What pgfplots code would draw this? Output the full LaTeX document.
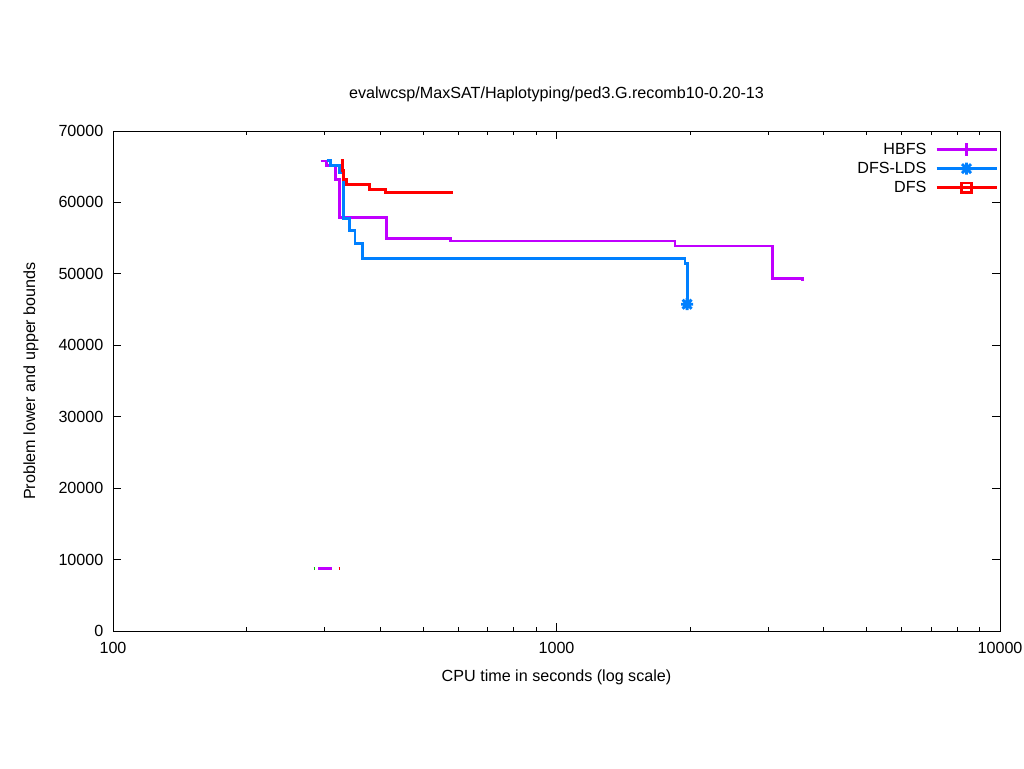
\documentclass[border=0pt]{standalone}
\usepackage{pgfplots}
\pgfplotsset{compat=1.18}
\usepackage{fontspec}
\setmainfont{Liberation Sans}
\usetikzlibrary{plotmarks}
\definecolor{cpur}{RGB}{192,0,255}
\definecolor{cblu}{RGB}{0,128,255}
\definecolor{cred}{RGB}{255,0,0}
\definecolor{cgrn}{RGB}{0,192,0}
\pgfdeclareplotmark{gpstar}{%
  \pgfpathmoveto{\pgfqpoint{-\pgfplotmarksize}{0pt}}\pgfpathlineto{\pgfqpoint{\pgfplotmarksize}{0pt}}%
  \pgfpathmoveto{\pgfqpoint{0pt}{-\pgfplotmarksize}}\pgfpathlineto{\pgfqpoint{0pt}{\pgfplotmarksize}}%
  \pgfpathmoveto{\pgfqpoint{-0.75\pgfplotmarksize}{-0.75\pgfplotmarksize}}\pgfpathlineto{\pgfqpoint{0.75\pgfplotmarksize}{0.75\pgfplotmarksize}}%
  \pgfpathmoveto{\pgfqpoint{-0.75\pgfplotmarksize}{0.75\pgfplotmarksize}}\pgfpathlineto{\pgfqpoint{0.75\pgfplotmarksize}{-0.75\pgfplotmarksize}}%
  \pgfusepathqstroke}
\newcommand{\fs}{\fontsize{12.1}{14}\selectfont}
\begin{document}
\fs
\begin{tikzpicture}
\path[use as bounding box] (0,0) rectangle (768pt,576pt);
\begin{axis}[
  at={(84.75pt,102.75pt)}, anchor=south west,
  scale only axis, width=665.25pt, height=375pt,
  xmode=log, xmin=100, xmax=10000, ymin=0, ymax=70000,
  xtick={100,1000,10000}, xticklabels={100,1000,10000},
  minor xtick={200,300,400,500,600,700,800,900,2000,3000,4000,5000,6000,7000,8000,9000},
  ytick={0,10000,...,70000},
  yticklabel style={/pgf/number format/1000 sep={}, /pgf/number format/fixed},
  scaled y ticks=false,
  /pgf/number format/assume math mode=true,
  tick align=inside, major tick length=6pt, minor tick length=3pt,
  tick style={black, line width=0.75pt},
  axis line style={line width=0.75pt},
  every tick label/.append style={font=\fs},
  xticklabel style={yshift=-4.5pt},
  yticklabel style={xshift=-3pt},
  title={evalwcsp/MaxSAT/Haplotyping/ped3.G.recomb10-0.20-13},
  title style={at={(axis description cs:0.5,1.058)}, anchor=center, font=\fs},
  xlabel={CPU time in seconds (log scale)},
  xlabel style={at={(axis description cs:0.5,-0.092)}, anchor=center, font=\fs},
  ylabel={Problem lower and upper bounds},
  ylabel style={at={(axis description cs:-0.0924,0.5)}, anchor=center, font=\fs},
  legend style={at={(rel axis cs:0.9995,0.985)}, anchor=north east, draw=none, fill=none,
    font=\fs, row sep=0pt, column sep=4.5pt, inner sep=1pt,
    legend cell align=right},
  legend plot pos=right,
  legend image code/.code={
    \draw[#1, mark indices={2}] plot coordinates {(0pt,0pt) (22.5pt,0pt) (45pt,0pt)};},
]
\addplot[cpur, line width=2.2pt, const plot, mark=+, mark size=4.9pt, mark options={line width=2.2pt}, mark indices={100}] coordinates {
(294.4,65800) (303.3,65150) (317.8,63150) (324.9,57900) (414.2,54900)
(578,54600) (1850,53900) (3066,49400) (3583,49000)};
\addlegendentry{HBFS}
\addplot[cblu, line width=2.2pt, const plot, mark=gpstar, mark size=4.5pt, mark options={line width=2.2pt}, mark indices={10}] coordinates {
(303.3,65850) (309.7,65150) (324.9,64200) (331.7,57800) (342.2,56050)
(351.3,54250) (365.6,52200) (1949,51500) (1970,50800) (1970,45750)};
\addlegendentry{DFS-LDS}
\addplot[cred, line width=2.2pt, const plot, mark=square, mark size=3.5pt, mark options={line width=2.2pt}, mark indices={100}] coordinates {
(326.2,65850) (328.7,64500) (330.5,63200) (335.4,62450) (379.7,61750)
(412,61450) (585,61450)};
\addlegendentry{DFS}
\addplot[cgrn, line width=2.2pt, forget plot] coordinates {(283.3,8800) (285.3,8800)};
\addplot[cpur, line width=2.2pt, forget plot] coordinates {(290,8800) (311.2,8800)};
\addplot[cred, line width=2.2pt, forget plot] coordinates {(322.7,8800) (324.7,8800)};
\end{axis}
\end{tikzpicture}
\end{document}
